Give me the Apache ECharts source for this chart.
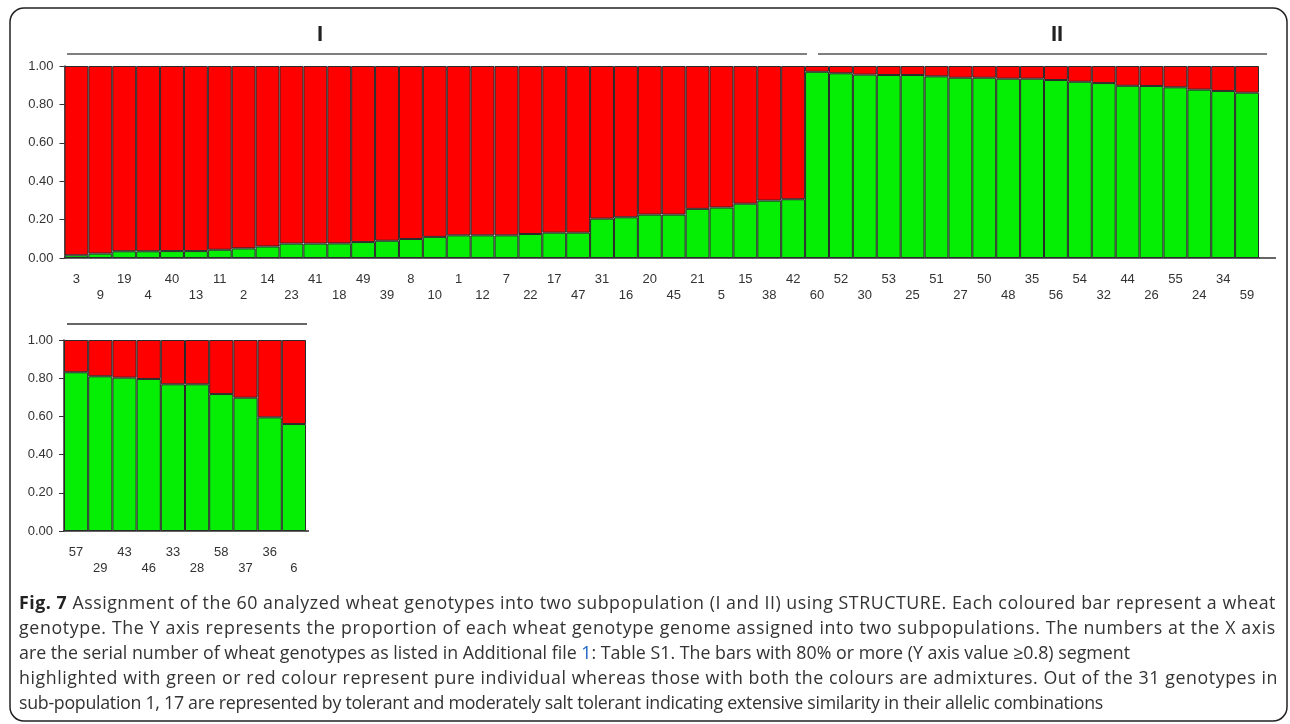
<!DOCTYPE html>
<html>
<head>
<meta charset="utf-8">
<script src="https://cdn.jsdelivr.net/npm/echarts@6/dist/echarts.min.js"></script>
<style>
  html, body { margin: 0; padding: 0; background: #fff; }
  #chart { position: absolute; left: 0; top: 0; width: 1290px; height: 724px; }
  #caption { position: absolute; left: 19px; top: 590px; width: 1280px; font-family: "Open Sans", "Noto Sans", sans-serif; color: #333; }
  #caption div { white-space: nowrap; }
  #caption b { color: #222; }
  #caption .lnk { color: #1a63c5; }
</style>
</head>
<body>
<div id="chart"></div>
<div id="caption">
  <div class="cl"><b>Fig. 7</b> Assignment of the 60 analyzed wheat genotypes into two subpopulation (I and II) using STRUCTURE. Each coloured bar represent a wheat</div>
  <div class="cl">genotype. The Y axis represents the proportion of each wheat genotype genome assigned into two subpopulations. The numbers at the X axis</div>
  <div class="cl">are the serial number of wheat genotypes as listed in Additional file <span class="lnk">1</span>: Table S1. The bars with 80% or more (Y axis value ≥0.8) segment</div>
  <div class="cl">highlighted with green or red colour represent pure individual whereas those with both the colours are admixtures. Out of the 31 genotypes in</div>
  <div class="cl">sub-population 1, 17 are represented by tolerant and moderately salt tolerant indicating extensive similarity in their allelic combinations</div>
</div>
<script>
// ---- data ----
var topCats = ['3','9','19','4','40','13','11','2','14','23','41','18','49','39','8','10','1','12','7','22','17','47','31','16','20','45','21','5','15','38','42','60','52','30','53','25','51','27','50','48','35','56','54','32','44','26','55','24','34','59'];
var topGreen = [0.014,0.023,0.035,0.035,0.036,0.036,0.043,0.050,0.060,0.075,0.075,0.076,0.083,0.090,0.099,0.110,0.118,0.118,0.118,0.125,0.132,0.132,0.205,0.212,0.226,0.226,0.256,0.263,0.283,0.299,0.306,0.970,0.962,0.955,0.953,0.953,0.946,0.939,0.939,0.934,0.934,0.927,0.918,0.911,0.897,0.896,0.889,0.877,0.870,0.861];
var topRed = [0.986,0.977,0.965,0.965,0.964,0.964,0.957,0.950,0.940,0.925,0.925,0.924,0.917,0.910,0.901,0.890,0.882,0.882,0.882,0.875,0.868,0.868,0.795,0.788,0.774,0.774,0.744,0.737,0.717,0.701,0.694,0.030,0.038,0.045,0.047,0.047,0.054,0.061,0.061,0.066,0.066,0.073,0.082,0.089,0.103,0.104,0.111,0.123,0.130,0.139];
var bottomCats = ['57','29','43','46','33','28','58','37','36','6'];
var bottomGreen = [0.831,0.810,0.803,0.796,0.768,0.768,0.717,0.698,0.595,0.560];
var bottomRed = [0.169,0.190,0.197,0.204,0.232,0.232,0.283,0.302,0.405,0.440];
var yTicks = [0, 0.2, 0.4, 0.6, 0.8, 1.0];
var groupLabels = ['I', 'II'];

// ---- caption fit (per-line letter spacing) ----
(function () {
  var cap = document.getElementById('caption');
  var lines = cap.querySelectorAll('.cl');
  var targets = [1257, 1257, 1111, 1259, 1084];
  function natural(el) {
    var r = document.createRange();
    r.selectNodeContents(el);
    return r.getBoundingClientRect().width;
  }
  cap.style.fontSize = '16px';
  var w3 = natural(lines[2]);
  var fs = 16 * targets[2] / w3;
  cap.style.fontSize = fs.toFixed(2) + 'px';
  cap.style.lineHeight = '25px';
  for (var i = 0; i < lines.length; i++) {
    var n = natural(lines[i]);
    var c = lines[i].textContent.length;
    lines[i].style.letterSpacing = ((targets[i] - n) / c).toFixed(3) + 'px';
  }
})();

var GREEN = '#05ef05';
var RED = '#ff0000';
var BORDER = '#2a2a2a';
var AXIS = '#333';
var labelFont = "'Liberation Sans Narrow', 'Liberation Sans', Arial, sans-serif";

function xAxisFor(gridIndex, cats) {
  return {
    type: 'category', gridIndex: gridIndex, data: cats,
    axisLine: { lineStyle: { color: AXIS, width: 1.5 } },
    axisTick: { alignWithLabel: true, length: 7, lineStyle: { color: AXIS } },
    axisLabel: {
      interval: 0, color: '#333', fontSize: 13, fontFamily: labelFont,
      lineHeight: 16, margin: 13,
      formatter: function (v, i) { return i % 2 ? '\n' + v : v; }
    }
  };
}
function yAxisFor(gridIndex) {
  return {
    type: 'value', gridIndex: gridIndex, min: 0, max: 1, interval: 0.2,
    axisLine: { show: true, lineStyle: { color: AXIS, width: 1.5 } },
    axisTick: { show: true, length: 5, lineStyle: { color: AXIS } },
    splitLine: { show: false },
    axisLabel: {
      color: '#333', fontSize: 13, fontFamily: labelFont, margin: 11,
      formatter: function (v) { return yTicks.indexOf(Math.round(v * 10) / 10) >= 0 ? v.toFixed(2) : ''; }
    }
  };
}
function barSeries(xi, stack, data, color) {
  return {
    type: 'bar', xAxisIndex: xi, yAxisIndex: xi, stack: stack, data: data,
    barCategoryGap: '0%', barGap: '0%',
    itemStyle: { color: color, borderColor: BORDER, borderWidth: 1 },
    silent: true, animation: false
  };
}

var chart = echarts.init(document.getElementById('chart'), null, { renderer: 'canvas' });
chart.setOption({
  backgroundColor: '#fff',
  animation: false,
  grid: [
    { left: 64.5, right: 31, top: 66, height: 192 },
    { left: 64, width: 242, top: 340, height: 191 }
  ],
  xAxis: [xAxisFor(0, topCats), xAxisFor(1, bottomCats)],
  yAxis: [yAxisFor(0), yAxisFor(1)],
  series: [
    barSeries(0, 'top', topGreen, GREEN),
    barSeries(0, 'top', topRed, RED),
    barSeries(1, 'bot', bottomGreen, GREEN),
    barSeries(1, 'bot', bottomRed, RED)
  ],
  graphic: [
    { type: 'rect', shape: { x: 10, y: 8, width: 1277, height: 713, r: 14 },
      style: { fill: 'none', stroke: '#222', lineWidth: 1.5 }, silent: true },
    { type: 'line', shape: { x1: 67, y1: 54, x2: 807, y2: 54 }, style: { stroke: '#555', lineWidth: 1.5 } },
    { type: 'line', shape: { x1: 818, y1: 54, x2: 1267, y2: 54 }, style: { stroke: '#555', lineWidth: 1.5 } },
    { type: 'line', shape: { x1: 67, y1: 324, x2: 307, y2: 324 }, style: { stroke: '#333', lineWidth: 1.5 } },
    { type: 'line', shape: { x1: 1259, y1: 258, x2: 1276, y2: 258 }, style: { stroke: AXIS, lineWidth: 1.5 } },
    { type: 'line', shape: { x1: 306, y1: 531, x2: 309, y2: 531 }, style: { stroke: AXIS, lineWidth: 1.5 } },
    { type: 'text', x: 320, y: 35, style: { text: groupLabels[0], font: "bold 22px 'Liberation Sans', Arial, sans-serif", fill: '#222', align: 'center', verticalAlign: 'middle' } },
    { type: 'text', x: 1057, y: 35, style: { text: groupLabels[1], font: "bold 22px 'Liberation Sans', Arial, sans-serif", fill: '#222', align: 'center', verticalAlign: 'middle' } }
  ]
});
</script>
</body>
</html>
